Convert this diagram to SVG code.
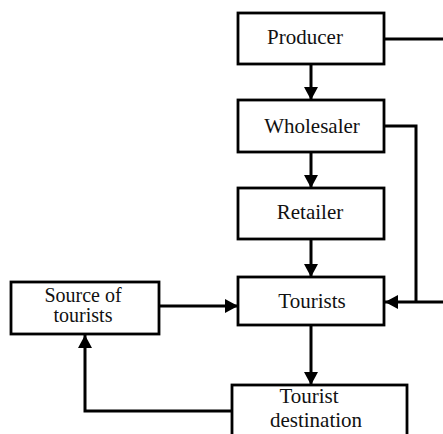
<svg xmlns="http://www.w3.org/2000/svg" width="443" height="434" viewBox="0 0 443 434">
<style>
.box{fill:#fff;stroke:#000;stroke-width:2.8}
.lbl{font-family:'Liberation Serif','Times New Roman','DejaVu Serif',serif;font-size:21px;fill:#111;text-anchor:middle}
.sm{font-size:20px}
.ln{fill:none;stroke:#000;stroke-width:3}
</style>
<defs>
<marker id="ah" markerWidth="14" markerHeight="14" viewBox="0 0 14 14" refX="13" refY="7" orient="auto" markerUnits="userSpaceOnUse">
<path d="M0,0 L13,7 L0,14 Z" fill="#000"/>
</marker>
</defs>
<rect width="443" height="434" fill="#fff"/>
<g id="connectors">
<path class="ln" d="M311,64 V100" marker-end="url(#ah)"/>
<path class="ln" d="M311,152 V188" marker-end="url(#ah)"/>
<path class="ln" d="M311,239 V277" marker-end="url(#ah)"/>
<path class="ln" d="M311,325 V385" marker-end="url(#ah)"/>
<path class="ln" d="M159,306 H238" marker-end="url(#ah)"/>
<path class="ln" d="M384,39 H448 V302 H385" marker-end="url(#ah)"/>
<path class="ln" d="M384,126 H416 V302"/>
<path class="ln" d="M232,411 H85 V335" marker-end="url(#ah)"/>
</g>
<g id="producer">
<rect class="box" x="238" y="13" width="146" height="51"/>
<text class="lbl" x="305" y="44">Producer</text>
</g>
<g id="wholesaler">
<rect class="box" x="238" y="100" width="146" height="52"/>
<text class="lbl" x="312" y="133">Wholesaler</text>
</g>
<g id="retailer">
<rect class="box" x="238" y="188" width="146" height="51"/>
<text class="lbl" x="310" y="219">Retailer</text>
</g>
<g id="tourists">
<rect class="box" x="238" y="277" width="146" height="48"/>
<text class="lbl" x="312" y="308">Tourists</text>
</g>
<g id="source">
<rect class="box" x="11" y="282" width="148" height="52"/>
<text class="lbl sm" x="83" y="302">Source of</text>
<text class="lbl sm" x="83" y="322">tourists</text>
</g>
<g id="destination">
<rect class="box" x="232" y="385" width="175" height="60"/>
<text class="lbl" x="309" y="403">Tourist</text>
<text class="lbl" x="316" y="427">destination</text>
</g>
</svg>
